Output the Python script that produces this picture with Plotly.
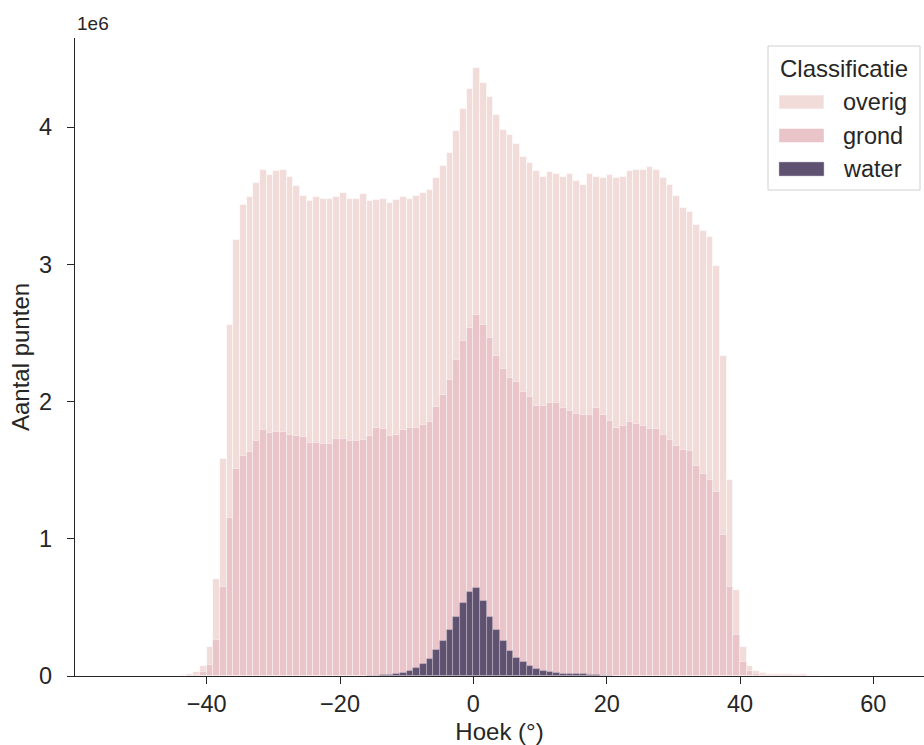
import plotly.graph_objects as go

# Histogram of point angles (1-degree bins), counts in millions, per class
bin_left = list(range(-46, 53))

overig = [
    0.002, 0.003, 0.006, 0.012, 0.03, 0.07, 0.21, 0.71, 1.58, 2.56,
    3.18, 3.43, 3.49, 3.59, 3.69, 3.65, 3.68, 3.69, 3.64, 3.57,
    3.50, 3.46, 3.49, 3.48, 3.48, 3.49, 3.52, 3.48, 3.48, 3.51,
    3.46, 3.47, 3.48, 3.45, 3.47, 3.49, 3.48, 3.50, 3.52, 3.54,
    3.63, 3.72, 3.81, 3.97, 4.13, 4.28, 4.43, 4.32, 4.22, 4.09,
    3.98, 3.94, 3.88, 3.78, 3.74, 3.68, 3.64, 3.67, 3.66, 3.64,
    3.66, 3.61, 3.58, 3.66, 3.64, 3.63, 3.65, 3.63, 3.64, 3.68,
    3.69, 3.69, 3.71, 3.69, 3.63, 3.58, 3.50, 3.41, 3.38, 3.29,
    3.24, 3.20, 2.99, 2.33, 1.43, 0.63, 0.21, 0.075, 0.035, 0.02,
    0.015, 0.015, 0.014, 0.012, 0.01, 0.012, 0.008, 0.005, 0.003,
]

grond = [
    0.001, 0.002, 0.003, 0.005, 0.01, 0.03, 0.08, 0.26, 0.65, 1.15,
    1.51, 1.60, 1.63, 1.71, 1.79, 1.77, 1.78, 1.78, 1.76, 1.75,
    1.74, 1.70, 1.70, 1.69, 1.69, 1.73, 1.73, 1.71, 1.71, 1.72,
    1.75, 1.81, 1.80, 1.75, 1.76, 1.79, 1.81, 1.81, 1.83, 1.85,
    1.96, 2.05, 2.16, 2.30, 2.44, 2.54, 2.63, 2.56, 2.46, 2.33,
    2.24, 2.17, 2.14, 2.07, 2.03, 1.97, 1.97, 1.99, 1.99, 1.95,
    1.93, 1.91, 1.90, 1.90, 1.95, 1.90, 1.86, 1.81, 1.82, 1.85,
    1.84, 1.82, 1.80, 1.80, 1.76, 1.72, 1.68, 1.65, 1.64, 1.53,
    1.47, 1.43, 1.34, 1.03, 0.65, 0.30, 0.10, 0.035, 0.014, 0.008,
    0.006, 0.005, 0.005, 0.004, 0.004, 0.004, 0.003, 0.002, 0.001,
]

water_left = list(range(-16, 21))
water = [
    0.002, 0.003, 0.005, 0.008, 0.012, 0.019, 0.036, 0.056, 0.087, 0.126,
    0.189, 0.255, 0.335, 0.432, 0.534, 0.610, 0.639, 0.549, 0.432, 0.335,
    0.255, 0.185, 0.134, 0.100, 0.073, 0.051, 0.036, 0.027, 0.019, 0.017,
    0.017, 0.017, 0.012, 0.008, 0.005, 0.003, 0.002,
]

classes = ["overig", "grond", "water"]
colors = {"overig": "#f2dcda", "grond": "#e9c4c9", "water": "#5f5271"}
edge = {"overig": "rgba(255,255,255,0.75)", "grond": "rgba(255,255,255,0.55)",
        "water": "rgba(200,190,205,0.6)"}

FONT = "Liberation Sans, Arial, sans-serif"
TXT = "#262626"

fig = go.Figure()
for name, xs, ys in [("overig", bin_left, overig), ("grond", bin_left, grond),
                     ("water", water_left, water)]:
    fig.add_trace(go.Bar(
        x=xs, y=ys, width=1, offset=0, name=name,
        marker=dict(color=colors[name], line=dict(color=edge[name], width=0.8)),
        showlegend=False,
    ))

# Plot area geometry in pixels (for the hand-drawn legend box)
W, H = 924, 745
L, R, T, B = 75, 0, 38, 69
pw, ph = W - L - R, H - T - B


def px(x):
    return (x - L) / pw


def py(y):
    return (H - B - y) / ph


shapes = [dict(type="rect", xref="paper", yref="paper",
               x0=px(768), x1=px(920), y0=py(190), y1=py(46),
               line=dict(color="#d0d0d0", width=1), fillcolor="rgba(255,255,255,0.8)",
               layer="above")]
annotations = [dict(text="Classificatie", xref="paper", yref="paper",
                    x=px(844), y=py(69), xanchor="center", yanchor="middle",
                    showarrow=False, font=dict(family=FONT, size=24, color=TXT))]
for i, name in enumerate(classes):
    cy = 102 + 33.5 * i
    shapes.append(dict(type="rect", xref="paper", yref="paper",
                       x0=px(779), x1=px(824), y0=py(cy + 7), y1=py(cy - 7),
                       line=dict(color=edge[name], width=0.8), fillcolor=colors[name],
                       layer="above"))
    annotations.append(dict(text=name, xref="paper", yref="paper",
                            x=px(841), y=py(cy), xanchor="left", yanchor="middle",
                            showarrow=False, font=dict(family=FONT, size=23.5, color=TXT)))

annotations.append(dict(text="1e6", xref="paper", yref="paper", x=0, y=1,
                        xanchor="left", yanchor="bottom", yshift=2, showarrow=False,
                        font=dict(family=FONT, size=19, color=TXT)))

axis_common = dict(showline=True, linecolor=TXT, linewidth=1.3, ticks="outside",
                   ticklen=7, tickwidth=1.3, tickcolor=TXT, showgrid=False,
                   zeroline=False, tickfont=dict(family=FONT, size=23.5, color=TXT))

fig.update_layout(
    width=W, height=H, margin=dict(l=L, r=R, t=T, b=B),
    barmode="overlay", bargap=0,
    plot_bgcolor="white", paper_bgcolor="white",
    font=dict(family=FONT, color=TXT),
    xaxis=dict(range=[-59.76, 67.6], tick0=0, dtick=20,
               title=dict(text="Hoek (°)", font=dict(family=FONT, size=24, color=TXT),
                          standoff=6),
               **axis_common),
    yaxis=dict(range=[0, 4.65], tick0=0, dtick=1, ticklabelstandoff=10,
               title=dict(text="Aantal punten", font=dict(family=FONT, size=24, color=TXT),
                          standoff=2),
               **axis_common),
    shapes=shapes, annotations=annotations,
)

fig.write_html("out.html")
